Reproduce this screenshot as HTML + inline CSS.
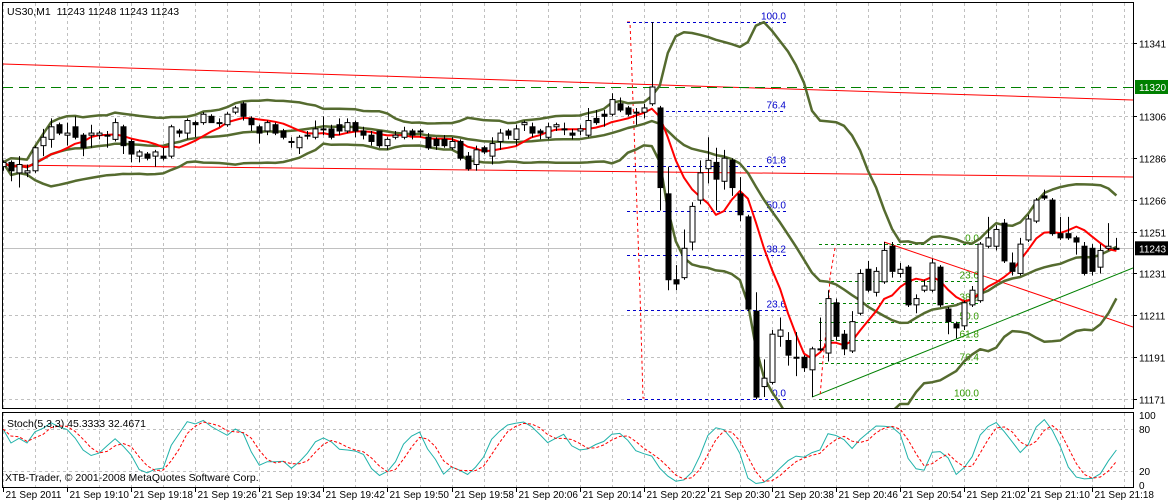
<!DOCTYPE html>
<html><head><meta charset="utf-8">
<style>
html,body{margin:0;padding:0;background:#fff;}
body{width:1171px;height:502px;overflow:hidden;font-family:"Liberation Sans",sans-serif;}
svg{display:block}
text{font-family:"Liberation Sans",sans-serif;font-size:10px;}
</style></head>
<body>
<svg id="chart" width="1171" height="502" viewBox="0 0 1171 502" xmlns="http://www.w3.org/2000/svg">
  <defs>
    <clipPath id="mainClip"><rect x="3" y="3" width="1130" height="405"/></clipPath>
    <clipPath id="stochClip"><rect x="3" y="413" width="1130" height="74"/></clipPath>
  </defs>
  <rect x="0" y="0" width="1171" height="502" fill="#fff"/>
  <g id="grid"></g>
  <g id="objects" clip-path="url(#mainClip)"></g>
  <g id="ind" clip-path="url(#mainClip)"></g>
  <g id="candles" clip-path="url(#mainClip)"></g>
  <g id="stoch" clip-path="url(#stochClip)"></g>
  <g id="axes"></g>
  <text x="7" y="15" fill="#000" style="font-size:10.5px">US30,M1&#160;&#160;11243 11248 11243 11243</text>
  <text x="7" y="427" fill="#000" style="font-size:10.5px">Stoch(5,3,3) 45.3333 32.4671</text>
  <text x="5" y="481" fill="#000" style="font-size:10.5px">XTB-Trader, © 2001-2008 MetaQuotes Software Corp.</text>
</svg>
<script>
// ---- data ----
const opens = [11282,11284,11279,11279,11280,11292,11295,11302,11297,11301,11297,11297,11297,11297,11295,11301,11294,11287,11288,11287,
11287,11287,11299,11298,11303,11303,11306,11303,11302,11308,11312,11305,11301,11299,11302,11299,11294,11291,11297,11296,
11300,11300,11302,11299,11303,11299,11297,11299,11292,11296,11296,11299,11299,11296,11295,11295,11291,11294,11287,11283,
11291,11287,11294,11299,11295,11302,11301,11299,11296,11301,11300,11298,11299,11297,11305,11307,11307,11312,11310,11308,
11308,11312,11310,11269,11228,11229,11246,11266,11281,11284,11275,11285,11269,11258,11213,11177,11179,11201,11199,11191,
11191,11185,11195,11193,11217,11202,11194,11212,11233,11222,11227,11244,11231,11234,11216,11223,11223,11234,11214,11207,
11206,11216,11218,11244,11244,11255,11236,11231,11247,11256,11268,11266,11250,11250,11248,11244,11243,11234,11243,11243];
const highs = [11285,11285,11287,11283,11292,11300,11305,11303,11303,11306,11298,11302,11299,11299,11305,11302,11295,11290,11289,11290,
11291,11302,11300,11305,11304,11308,11307,11305,11308,11311,11313,11306,11302,11304,11303,11300,11296,11297,11299,11304,
11306,11302,11305,11305,11304,11301,11299,11299,11296,11299,11301,11300,11300,11298,11296,11297,11296,11295,11289,11292,
11292,11296,11300,11300,11302,11304,11303,11300,11303,11303,11303,11300,11302,11310,11309,11309,11317,11315,11311,11310,
11312,11351,11311,11282,11235,11252,11265,11285,11296,11291,11290,11286,11277,11259,11222,11190,11204,11210,11203,11203,
11192,11196,11210,11223,11219,11204,11213,11233,11237,11234,11246,11246,11236,11235,11221,11228,11238,11235,11215,11208,
11218,11225,11246,11258,11254,11257,11241,11248,11259,11267,11271,11267,11258,11258,11249,11246,11245,11245,11255,11248];
const lows = [11280,11275,11272,11277,11279,11287,11291,11297,11292,11295,11287,11291,11295,11291,11294,11288,11284,11284,11285,11282,
11285,11286,11296,11295,11296,11302,11303,11301,11301,11307,11304,11299,11293,11297,11297,11295,11291,11288,11295,11295,
11297,11295,11297,11298,11296,11295,11292,11291,11290,11295,11295,11295,11296,11290,11290,11291,11290,11285,11280,11280,
11288,11283,11290,11295,11292,11299,11296,11295,11295,11299,11297,11295,11297,11296,11302,11301,11306,11308,11306,11302,
11305,11311,11261,11223,11223,11228,11242,11264,11274,11261,11271,11268,11256,11213,11171,11172,11178,11196,11187,11182,
11184,11172,11194,11189,11199,11192,11193,11211,11222,11220,11226,11229,11229,11215,11212,11222,11222,11215,11202,11200,
11204,11215,11217,11243,11242,11236,11230,11230,11246,11255,11266,11249,11247,11247,11240,11230,11230,11231,11242,11243];
const closes = [11284,11280,11283,11280,11291,11296,11301,11298,11298,11296,11291,11298,11298,11297,11303,11292,11288,11289,11286,11289,
11286,11301,11298,11304,11302,11307,11303,11303,11307,11310,11306,11302,11298,11303,11298,11296,11294,11296,11297,11300,
11300,11296,11299,11303,11299,11297,11294,11292,11295,11297,11299,11297,11299,11291,11292,11292,11294,11286,11281,11290,
11289,11293,11298,11297,11300,11303,11298,11298,11301,11302,11300,11297,11300,11304,11303,11306,11314,11309,11307,11308,
11310,11320,11272,11228,11226,11243,11263,11279,11285,11276,11286,11272,11259,11214,11172,11181,11202,11204,11192,11191,
11186,11195,11195,11219,11201,11195,11208,11231,11223,11232,11242,11232,11233,11216,11219,11225,11236,11216,11208,11205,
11217,11223,11245,11248,11252,11237,11232,11245,11257,11266,11267,11250,11248,11248,11246,11231,11232,11242,11244,11243];
const timeLabels = ["21 Sep 2011","21 Sep 19:10","21 Sep 19:18","21 Sep 19:26","21 Sep 19:34","21 Sep 19:42","21 Sep 19:50","21 Sep 19:58","21 Sep 20:06","21 Sep 20:14","21 Sep 20:22","21 Sep 20:30","21 Sep 20:38","21 Sep 20:46","21 Sep 20:54","21 Sep 21:02","21 Sep 21:10","21 Sep 21:18"];
const priceTicks = [11341,11306,11286,11266,11251,11231,11211,11191,11171];
const stochTicks = [100,80,20,0];
const fibLevels = [100.0,76.4,61.8,50.0,38.2,23.6,0.0];
const fib1High = 11351, fib1Low = 11171;
const fib2High = 11245, fib2Low = 11171;
const askLine = 11320, bidLine = 11243;

// ---- scales ----
const NS = "http://www.w3.org/2000/svg";
const PX0 = 3, BARW = 8.01;
function xb(i){ return PX0 + i*BARW; }
function yp(p){ return 43 + (11341 - p)*2.095; }
function ys(v){ return 485 - v*0.7; }
function mk(tag, attrs, parent){
  const el = document.createElementNS(NS, tag);
  for (const k in attrs) el.setAttribute(k, attrs[k]);
  parent.appendChild(el);
  return el;
}
const G = id => document.getElementById(id);
const grid = G('grid'), objs = G('objects'), ind = G('ind'), cg = G('candles'), sg = G('stoch'), ax = G('axes');
const RIGHT = 1133;

// ---- grid ----
for (let i = 0; i*BARW*4 < RIGHT-3; i++) {
  const x = Math.round(xb(i*4)) + 0.5;
  const l1 = mk('line', {x1:x, y1:3, x2:x, y2:408, stroke:'#c0c0c0', 'stroke-dasharray':'3,3'}, grid);
  
  
  const l2 = mk('line', {x1:x, y1:413, x2:x, y2:487, stroke:'#c0c0c0', 'stroke-dasharray':'3,3'}, grid);
  
  
}
priceTicks.forEach(p => {
  const y = Math.round(yp(p)) + 0.5;
  const l = mk('line', {x1:3, y1:y, x2:RIGHT, y2:y, stroke:'#c0c0c0', 'stroke-dasharray':'3,3'}, grid);
  
  
});
[80,20].forEach(v => {
  const y = Math.round(ys(v)) + 0.5;
  const l = mk('line', {x1:3, y1:y, x2:RIGHT, y2:y, stroke:'#c0c0c0', 'stroke-dasharray':'3,3'}, grid);
  
  
});

// ---- chart objects ----
function line(x1,y1,x2,y2,color,dash,name,w){
  const a = {x1:x1,y1:y1,x2:x2,y2:y2,stroke:color,'stroke-width':w||1};
  if (dash) a['stroke-dasharray'] = dash;
  const l = mk('line', a, objs);
  
  
  return l;
}
line(3,64,RIGHT,100,'#ff0000',null,'upper-trendline');
line(3,165,RIGHT,177,'#ff0000',null,'lower-trendline');
line(3,yp(askLine)+0.5,RIGHT,yp(askLine)+0.5,'#008000','10,6','level-line-11320');
line(3,Math.round(yp(bidLine))+0.5,RIGHT,Math.round(yp(bidLine))+0.5,'#c0c0c0',null,'bid-line');
line(xb(110),yp(11246),RIGHT,327,'#ff0000',null,'triangle-upper-line');
line(xb(101),yp(11172),RIGHT,268,'#008000',null,'triangle-lower-line');
const dv1 = mk('polyline', {points:[627,22,630,22,637,208,640,293,643,398,646,398].join(' '), fill:'none', stroke:'#ff0000', 'stroke-dasharray':'3,3'}, objs);


fibLevels.forEach(lv => {
  const p = fib1Low + (fib1High - fib1Low)*lv/100;
  const y = Math.round(yp(p)) + 0.5;
  const x0 = lv === 76.4 ? 660 : 627;
  line(x0, y, 786, y, '#0000cc', '3,3', 'fib1-level-line');
  const t = mk('text', {x:786, y:y-3, 'text-anchor':'end', fill:'#0000cc'}, objs);
  t.textContent = lv.toFixed(1);
  
  
});
const dv2 = mk('polyline', {points:[835,248,830,277,828,313,823,360,820,397].join(' '), fill:'none', stroke:'#ff0000', 'stroke-dasharray':'3,3'}, objs);


fibLevels.forEach(lv => {
  const p = fib2High - (fib2High - fib2Low)*lv/100;
  const y = Math.round(yp(p)) + 0.5;
  line(819, y, 980, y, '#008000', '3,3', 'fib2-level-line');
  const t = mk('text', {x:979, y:y-3, 'text-anchor':'end', fill:'#339900'}, objs);
  t.textContent = lv.toFixed(1);
  
  
});

// ---- indicators ----
const N = closes.length;
function sma(arr, n, i){ let s=0,c=0; for(let k=Math.max(0,i-n+1);k<=i;k++){s+=arr[k];c++;} return s/c; }
const ma = [], bbU = [], bbM = [], bbL = [];
for (let i=0;i<N;i++){
  ma.push(sma(closes,8,i));
  const m = sma(closes,20,i);
  let v=0,c=0; for(let k=Math.max(0,i-19);k<=i;k++){v+=(closes[k]-m)**2;c++;}
  const sd = Math.sqrt(v/c);
  bbM.push(m); bbU.push(m+2*sd); bbL.push(m-2*sd);
}
function path(arr, fy){ return arr.map((v,i)=>(i?'L':'M')+xb(i).toFixed(1)+','+fy(v).toFixed(1)).join(''); }
[[bbU,'bollinger-upper'],[bbM,'bollinger-middle'],[bbL,'bollinger-lower']].forEach(([a,n])=>{
  const p = mk('path', {d:path(a,yp), fill:'none', stroke:'#556b2f', 'stroke-width':2.5, 'stroke-linejoin':'round'}, ind);
  
  
});
const maP = mk('path', {d:path(ma,yp), fill:'none', stroke:'#ff0000', 'stroke-width':2, 'stroke-linejoin':'round'}, ind);



// ---- candles ----
for (let i=0;i<N;i++){
  const x = Math.round(xb(i)) + 0.5;
  const w = mk('line', {x1:x, y1:yp(highs[i]), x2:x, y2:yp(lows[i]), stroke:'#000'}, cg);
  
  
  const top = yp(Math.max(opens[i],closes[i])), bot = yp(Math.min(opens[i],closes[i]));
  const bull = closes[i] >= opens[i];
  const b = mk('rect', {x:x-2.5, y:top, width:5, height:Math.max(1,bot-top), fill: bull?'#fff':'#000', stroke:'#000'}, cg);
  
  
}

// ---- stochastic ----
const kLine = [], dLine = [];
for (let i=0;i<N;i++){
  let num=0, den=0;
  for (let j=Math.max(0,i-2); j<=i; j++){
    let hh=-1e9, ll=1e9;
    for (let k=Math.max(0,j-4); k<=j; k++){ hh=Math.max(hh,highs[k]); ll=Math.min(ll,lows[k]); }
    num += closes[j]-ll; den += hh-ll;
  }
  kLine.push(den? num/den*100 : 50);
}
for (let i=0;i<N;i++) dLine.push(sma(kLine,3,i));
const kp = mk('path', {d:path(kLine,ys), fill:'none', stroke:'#20b2aa', 'stroke-width':1}, sg);


const dp = mk('path', {d:path(dLine,ys), fill:'none', stroke:'#ff0000', 'stroke-width':1, 'stroke-dasharray':'3,2'}, sg);



// ---- frames & axes ----
const f1 = mk('rect', {x:2.5, y:2.5, width:RIGHT-2, height:406, fill:'none', stroke:'#000'}, ax);


const f2 = mk('rect', {x:2.5, y:412.5, width:RIGHT-2, height:75, fill:'none', stroke:'#000'}, ax);


priceTicks.forEach(p => {
  const y = Math.round(yp(p)) + 0.5;
  const tk = mk('line', {x1:RIGHT, y1:y, x2:RIGHT+4, y2:y, stroke:'#000'}, ax);
  
  
  const t = mk('text', {x:1139, y:y+4, fill:'#000'}, ax);
  t.textContent = p;
  
  
});
function tag(p, bg, name){
  const y = yp(p);
  const r = mk('rect', {x:1135, y:y-7, width:33, height:14, fill:bg}, ax);
  
  
  const t = mk('text', {x:1139, y:y+4, fill:'#fff'}, ax);
  t.textContent = p;
  
  
}
tag(askLine, '#008000', 'level-11320');
tag(bidLine, '#000000', 'current-price');
stochTicks.forEach(v => {
  const y = ys(v);
  const t = mk('text', {x:1139, y:y+4, fill:'#000'}, ax);
  t.textContent = v;
  
  
});
timeLabels.forEach((s,k) => {
  const x = Math.round(xb(k*8)) + 0.5;
  const tk = mk('line', {x1:x, y1:487, x2:x, y2:492, stroke:'#000'}, ax);
  
  
  const t = mk('text', {x:x+2, y:498, fill:'#000'}, ax);
  t.textContent = s;
  
  
});
</script>
</body></html>
